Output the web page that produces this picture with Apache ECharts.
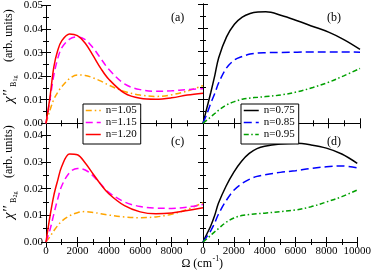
<!DOCTYPE html>
<html><head><meta charset="utf-8">
<script src="https://cdn.jsdelivr.net/npm/echarts@6/dist/echarts.min.js"></script>
<style>html,body{margin:0;padding:0;background:#fff}#c{width:374px;height:272px}</style>
</head><body><div id="c"></div>
<script>
// ---- data ----
const omega = [0,250,500,750,1000,1500,2000,2500,3000,3500,4000,5000,6000,7000,8000,9000,10000];
const xTicks = [0,2000,4000,6000,8000,10000];
const yTicksTop = [0.00,0.01,0.02,0.03,0.04,0.05];
const yTicksBottom = [0.00,0.01,0.02,0.03,0.04];
const namesHigh = ['n=1.05','n=1.15','n=1.20'];
const namesLow = ['n=0.75','n=0.85','n=0.95'];
// (a) B1g, n>1
const a_n105 = [0,0.0055,0.0102,0.0132,0.0155,0.0190,0.0205,0.0203,0.0193,0.0179,0.0162,0.0135,0.0120,0.0114,0.0121,0.0137,0.0160];
const a_n115 = [0,0.0100,0.0205,0.0275,0.0320,0.0357,0.0367,0.0355,0.0320,0.0274,0.0229,0.0167,0.0143,0.0136,0.0138,0.0143,0.0147];
const a_n120 = [0,0.0110,0.0240,0.0310,0.0350,0.0379,0.0372,0.0340,0.0287,0.0232,0.0187,0.0128,0.0106,0.0102,0.0108,0.0120,0.0128];
// (b) B1g, n<1
const b_n075 = [0,0.0065,0.0130,0.0200,0.0275,0.0362,0.0415,0.0445,0.0460,0.0466,0.0467,0.0452,0.0430,0.0406,0.0382,0.0350,0.0310];
const b_n085 = [0,0.0040,0.0085,0.0125,0.0170,0.0232,0.0265,0.0280,0.0290,0.0295,0.0296,0.0297,0.0298,0.0299,0.0299,0.0299,0.0298];
const b_n095 = [0,0.0013,0.0027,0.0041,0.0055,0.0077,0.0091,0.0101,0.0106,0.0109,0.0112,0.0119,0.0132,0.0150,0.0172,0.0200,0.0230];
// (c) B2g, n>1
const c_n105 = [0,0.0020,0.0042,0.0062,0.0078,0.0098,0.0110,0.0114,0.0111,0.0106,0.0101,0.0094,0.0091,0.0094,0.0104,0.0122,0.0147];
const c_n115 = [0,0.0045,0.0105,0.0162,0.0210,0.0260,0.0276,0.0270,0.0248,0.0216,0.0186,0.0150,0.0133,0.0127,0.0126,0.0131,0.0141];
const c_n120 = [0,0.0095,0.0175,0.0232,0.0283,0.0330,0.0327,0.0296,0.0255,0.0215,0.0181,0.0136,0.0113,0.0106,0.0109,0.0118,0.0128];
// (d) B2g, n<1
const d_n075 = [0,0.0030,0.0060,0.0098,0.0145,0.0210,0.0262,0.0303,0.0332,0.0350,0.0359,0.0367,0.0370,0.0364,0.0352,0.0330,0.0295];
const d_n085 = [0,0.0020,0.0042,0.0070,0.0104,0.0155,0.0194,0.0218,0.0235,0.0246,0.0252,0.0261,0.0267,0.0276,0.0282,0.0285,0.0278];
const d_n095 = [0,0.0012,0.0025,0.0038,0.0050,0.0074,0.0090,0.0099,0.0103,0.0106,0.0108,0.0114,0.0120,0.0132,0.0150,0.0170,0.0195];

// ---- styling ----
const FONT = 'Liberation Serif';
const styles = {
  'n=1.05': {color:'#ffa500', type:[6,3,1.5,3]},
  'n=1.15': {color:'#ff00ff', type:[7,4]},
  'n=1.20': {color:'#ff0000', type:'solid'},
  'n=0.75': {color:'#000000', type:'solid'},
  'n=0.85': {color:'#0000ff', type:[8,4]},
  'n=0.95': {color:'#00a000', type:[5,2.5,1.5,2.5]}
};
const grids = [
  {left:46, top:4, width:157, height:119.3},
  {left:203, top:4, width:157, height:119.3},
  {left:46, top:123.3, width:157, height:118.7},
  {left:203, top:123.3, width:157, height:118.7}
];
const yMax = [yTicksTop[yTicksTop.length-1], yTicksTop[yTicksTop.length-1], 0.0445, 0.0445];
const line = {show:true, lineStyle:{color:'#000', width:1}};
const tick = {show:true, inside:true, length:5, lineStyle:{color:'#000', width:1}};
const minor = {show:true, inside:true, splitNumber:2, length:3, lineStyle:{color:'#000', width:1}};

const xAxis = [], yAxis = [];
grids.forEach((g, i) => {
  const showX = i >= 2;
  xAxis.push({gridIndex:i, type:'value', position:'bottom', min:xTicks[0], max:xTicks[xTicks.length-1], interval:xTicks[1]-xTicks[0],
    axisLine:line, axisTick:tick, minorTick:minor, splitLine:{show:false},
    axisLabel:{show:showX, margin:4, fontFamily:FONT, fontSize:11, color:'#000',
      formatter: v => (i === 2 && v === 10000) ? '' : String(v)}});
  xAxis.push({gridIndex:i, type:'value', position:'top', min:xTicks[0], max:xTicks[xTicks.length-1], interval:xTicks[1]-xTicks[0],
    axisLine:line, axisTick:tick, minorTick:minor, splitLine:{show:false}, axisLabel:{show:false}});
  const showY = (i % 2) === 0;
  const labs = i < 2 ? yTicksTop : yTicksBottom;
  yAxis.push({gridIndex:i, type:'value', position:'left', min:0, max:yMax[i], interval:0.01,
    axisLine:line, axisTick:tick, minorTick:minor, splitLine:{show:false},
    axisLabel:{show:showY, margin:3, fontFamily:FONT, fontSize:11, color:'#000',
      formatter: v => { const k = labs.findIndex(t => Math.abs(t - v) < 1e-6); return k >= 0 ? labs[k].toFixed(2) : ''; }}});
  yAxis.push({gridIndex:i, type:'value', position:'right', min:0, max:yMax[i], interval:0.01,
    axisLine:line, axisTick:tick, minorTick:minor, splitLine:{show:false}, axisLabel:{show:false}});
});

const panels = [
  [[namesHigh[0], a_n105],[namesHigh[1], a_n115],[namesHigh[2], a_n120]],
  [[namesLow[0], b_n075],[namesLow[1], b_n085],[namesLow[2], b_n095]],
  [[namesHigh[0], c_n105],[namesHigh[1], c_n115],[namesHigh[2], c_n120]],
  [[namesLow[0], d_n075],[namesLow[1], d_n085],[namesLow[2], d_n095]]
];
const series = [];
panels.forEach((p, i) => {
  p.forEach(([name, vals]) => {
    const s = styles[name];
    series.push({type:'line', name, xAxisIndex:2*i, yAxisIndex:2*i, smooth:0.35, symbol:'none',
      color:s.color, lineStyle:{color:s.color, width:1.5, type:s.type},
      data: omega.map((x, k) => [x, vals[k]])});
  });
});

const legendBase = {orient:'vertical', itemWidth:15, itemHeight:8, itemGap:1, selectedMode:false,
  backgroundColor:'#fff', borderColor:'#000', borderWidth:1, borderRadius:0, padding:[1,4,4,2],
  itemStyle:{opacity:0, borderWidth:0},
  lineStyle:{width:1.5},
  textStyle:{fontFamily:FONT, fontSize:11, color:'#000', lineHeight:10}};

function txt(x, y, text, size, extra) {
  return {type:'text', x, y, style:Object.assign({text, fontFamily:FONT, fontSize:size, fill:'#000',
    align:'left', textAlign:'left', verticalAlign:'middle', textVerticalAlign:'middle'}, extra || {})};
}
function yTitle(x, y, sub) {
  return {type:'group', x, y, rotation:Math.PI/2, children:[
    txt(0, 0, "χ''", 15, {fontStyle:'italic'}),
    txt(16, 4.5, 'B', 8),
    txt(21.5, 6.5, sub, 6),
    txt(41, -0.5, '(arb. units)', 12)
  ]};
}

const option = {
  animation:false,
  grid: grids.map(g => Object.assign({containLabel:false}, g)),
  xAxis, yAxis, series,
  legend:[
    Object.assign({left:83, top:104, data:namesHigh}, legendBase),
    Object.assign({left:241, top:104, data:namesLow}, legendBase)
  ],
  graphic:[
    txt(171, 18, '(a)', 12),
    txt(327, 18, '(b)', 12),
    txt(171, 142, '(c)', 12),
    txt(327, 142, '(d)', 12),
    yTitle(9, 103, '1g'),
    yTitle(9, 219, '2g'),
    txt(212, 264, 'Ω (cm', 12, {align:'right', textAlign:'right'}),
    txt(212.5, 259, '-1', 8),
    txt(219, 264, ')', 12)
  ]
};
const chart = echarts.init(document.getElementById('c'), null, {renderer:'canvas'});
chart.setOption(option);
</script></body></html>
